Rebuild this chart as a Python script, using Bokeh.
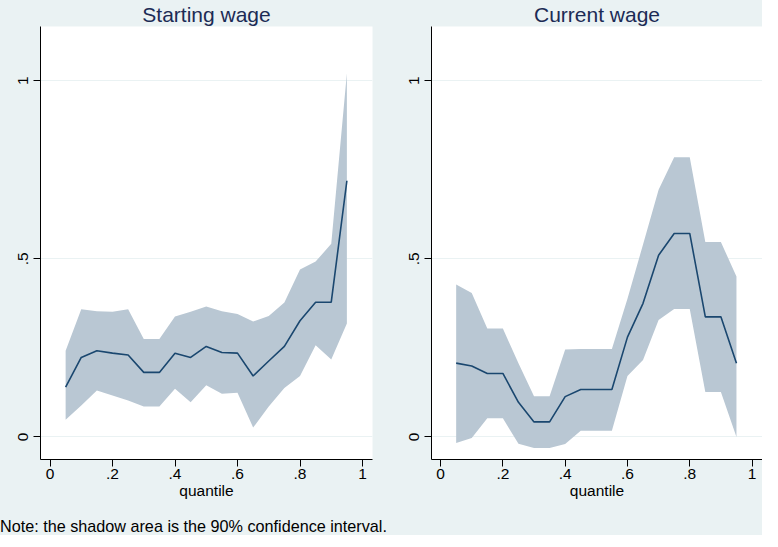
from bokeh.plotting import figure
from bokeh.models import FixedTicker, Range1d, Div, Title
from bokeh.layouts import row, column
from bokeh.embed import file_html
from bokeh.resources import INLINE

# ---------------- data ----------------
quantile = [0.05, 0.10, 0.15, 0.20, 0.25, 0.30, 0.35, 0.40, 0.45, 0.50,
            0.55, 0.60, 0.65, 0.70, 0.75, 0.80, 0.85, 0.90, 0.95]

start_coef = [0.140, 0.223, 0.242, 0.235, 0.230, 0.181, 0.181, 0.235, 0.223, 0.254,
              0.237, 0.235, 0.171, 0.213, 0.254, 0.326, 0.378, 0.378, 0.719]
start_upper = [0.242, 0.358, 0.353, 0.351, 0.358, 0.275, 0.275, 0.338, 0.351, 0.366,
               0.353, 0.345, 0.324, 0.339, 0.377, 0.470, 0.492, 0.542, 1.021]
start_lower = [0.048, 0.088, 0.130, 0.116, 0.102, 0.085, 0.085, 0.135, 0.097, 0.145,
               0.121, 0.124, 0.026, 0.085, 0.137, 0.171, 0.257, 0.217, 0.318]

curr_coef = [0.207, 0.199, 0.178, 0.178, 0.097, 0.042, 0.042, 0.113, 0.133, 0.133,
             0.133, 0.280, 0.375, 0.510, 0.571, 0.571, 0.337, 0.337, 0.207]
curr_upper = [0.428, 0.404, 0.304, 0.304, 0.207, 0.114, 0.114, 0.245, 0.247, 0.247,
              0.247, 0.388, 0.540, 0.694, 0.785, 0.785, 0.547, 0.547, 0.450]
curr_lower = [-0.017, -0.003, 0.052, 0.052, -0.019, -0.031, -0.031, -0.020, 0.017, 0.017,
              0.017, 0.171, 0.216, 0.328, 0.359, 0.359, 0.126, 0.126, 0.000]

x_ticks = [0, 0.2, 0.4, 0.6, 0.8, 1]
x_tick_labels = ["0", ".2", ".4", ".6", ".8", "1"]
y_ticks = [0, 0.5, 1]
y_tick_labels = ["0", ".5", "1"]

titles = ["Starting wage", "Current wage"]
x_label = "quantile"
note = "Note: the shadow area is the 90% confidence interval."

# ---------------- style ----------------
BG = "#EAF2F3"
BAND = "#B9C7D3"
LINE = "#1A476F"
TITLE_C = "#1C2B55"
FONT = "Liberation Sans"
FRAME_H = 433
B_TOP = 22
B_BOT = 48


def make_panel(title, lower, upper, coef, frame_w, x_start, x_end, b_left, b_right):
    p = figure(frame_width=frame_w, frame_height=FRAME_H,
               output_backend="svg", toolbar_location=None,
               x_range=Range1d(x_start, x_end), y_range=Range1d(-0.0635, 1.152),
               min_border_left=b_left, min_border_right=b_right,
               min_border_top=B_TOP, min_border_bottom=B_BOT)
    t = Title(text=title, align="center", text_font=FONT, text_font_size="21px",
              text_font_style="normal", text_color=TITLE_C, standoff=1,
              text_line_height=0.8)
    p.add_layout(t, "above")
    p.background_fill_color = "white"
    p.border_fill_color = BG
    p.outline_line_color = None

    p.varea(x=quantile, y1=lower, y2=upper, fill_color=BAND, fill_alpha=1.0)
    p.line(x=quantile, y=coef, line_color=LINE, line_width=1.6)

    p.xgrid.visible = False
    p.ygrid.ticker = FixedTicker(ticks=y_ticks)
    p.ygrid.grid_line_color = BG
    p.ygrid.grid_line_width = 1.2
    p.ygrid.level = "underlay"

    p.xaxis.ticker = FixedTicker(ticks=x_ticks)
    p.xaxis.major_label_overrides = {t_: l for t_, l in zip(x_ticks, x_tick_labels)}
    p.yaxis.ticker = FixedTicker(ticks=y_ticks)
    p.yaxis.major_label_overrides = {t_: l for t_, l in zip(y_ticks, y_tick_labels)}
    p.yaxis.major_label_orientation = "vertical"
    p.xaxis.axis_label = x_label

    for ax in (p.xaxis[0], p.yaxis[0]):
        ax.axis_line_color = "black"
        ax.axis_line_width = 1
        ax.major_tick_line_color = "black"
        ax.major_tick_in = 0
        ax.major_tick_out = 7
        ax.minor_tick_line_color = None
        ax.major_label_text_font = FONT
        ax.major_label_text_font_size = "15.5px"
        ax.major_label_text_color = "black"
        ax.axis_label_text_font = FONT
        ax.axis_label_text_font_size = "15.5px"
        ax.axis_label_text_font_style = "normal"
        ax.axis_label_text_color = "black"
    p.xaxis.axis_label_standoff = 0
    p.xaxis.major_label_standoff = 2
    p.yaxis.major_label_standoff = 5
    return p


p1 = make_panel(titles[0], start_lower, start_upper, start_coef, 332, -0.0304, 1.032, 40, 29)
p2 = make_panel(titles[1], curr_lower, curr_upper, curr_coef, 331, -0.0292, 1.0336, 30, 0)

note_div = Div(text=note, width=762, height=28, margin=0,
               styles={"background-color": BG, "font-family": FONT,
                       "font-size": "16.2px", "color": "black",
                       "line-height": "18px", "padding-top": "10px",
                       "box-sizing": "border-box", "overflow": "visible",
                       "white-space": "nowrap"})

layout = column(row(p1, p2, spacing=0, styles={"background-color": BG}),
                note_div, spacing=0, styles={"background-color": BG})

open("out.html", "w").write(file_html(layout, INLINE))
